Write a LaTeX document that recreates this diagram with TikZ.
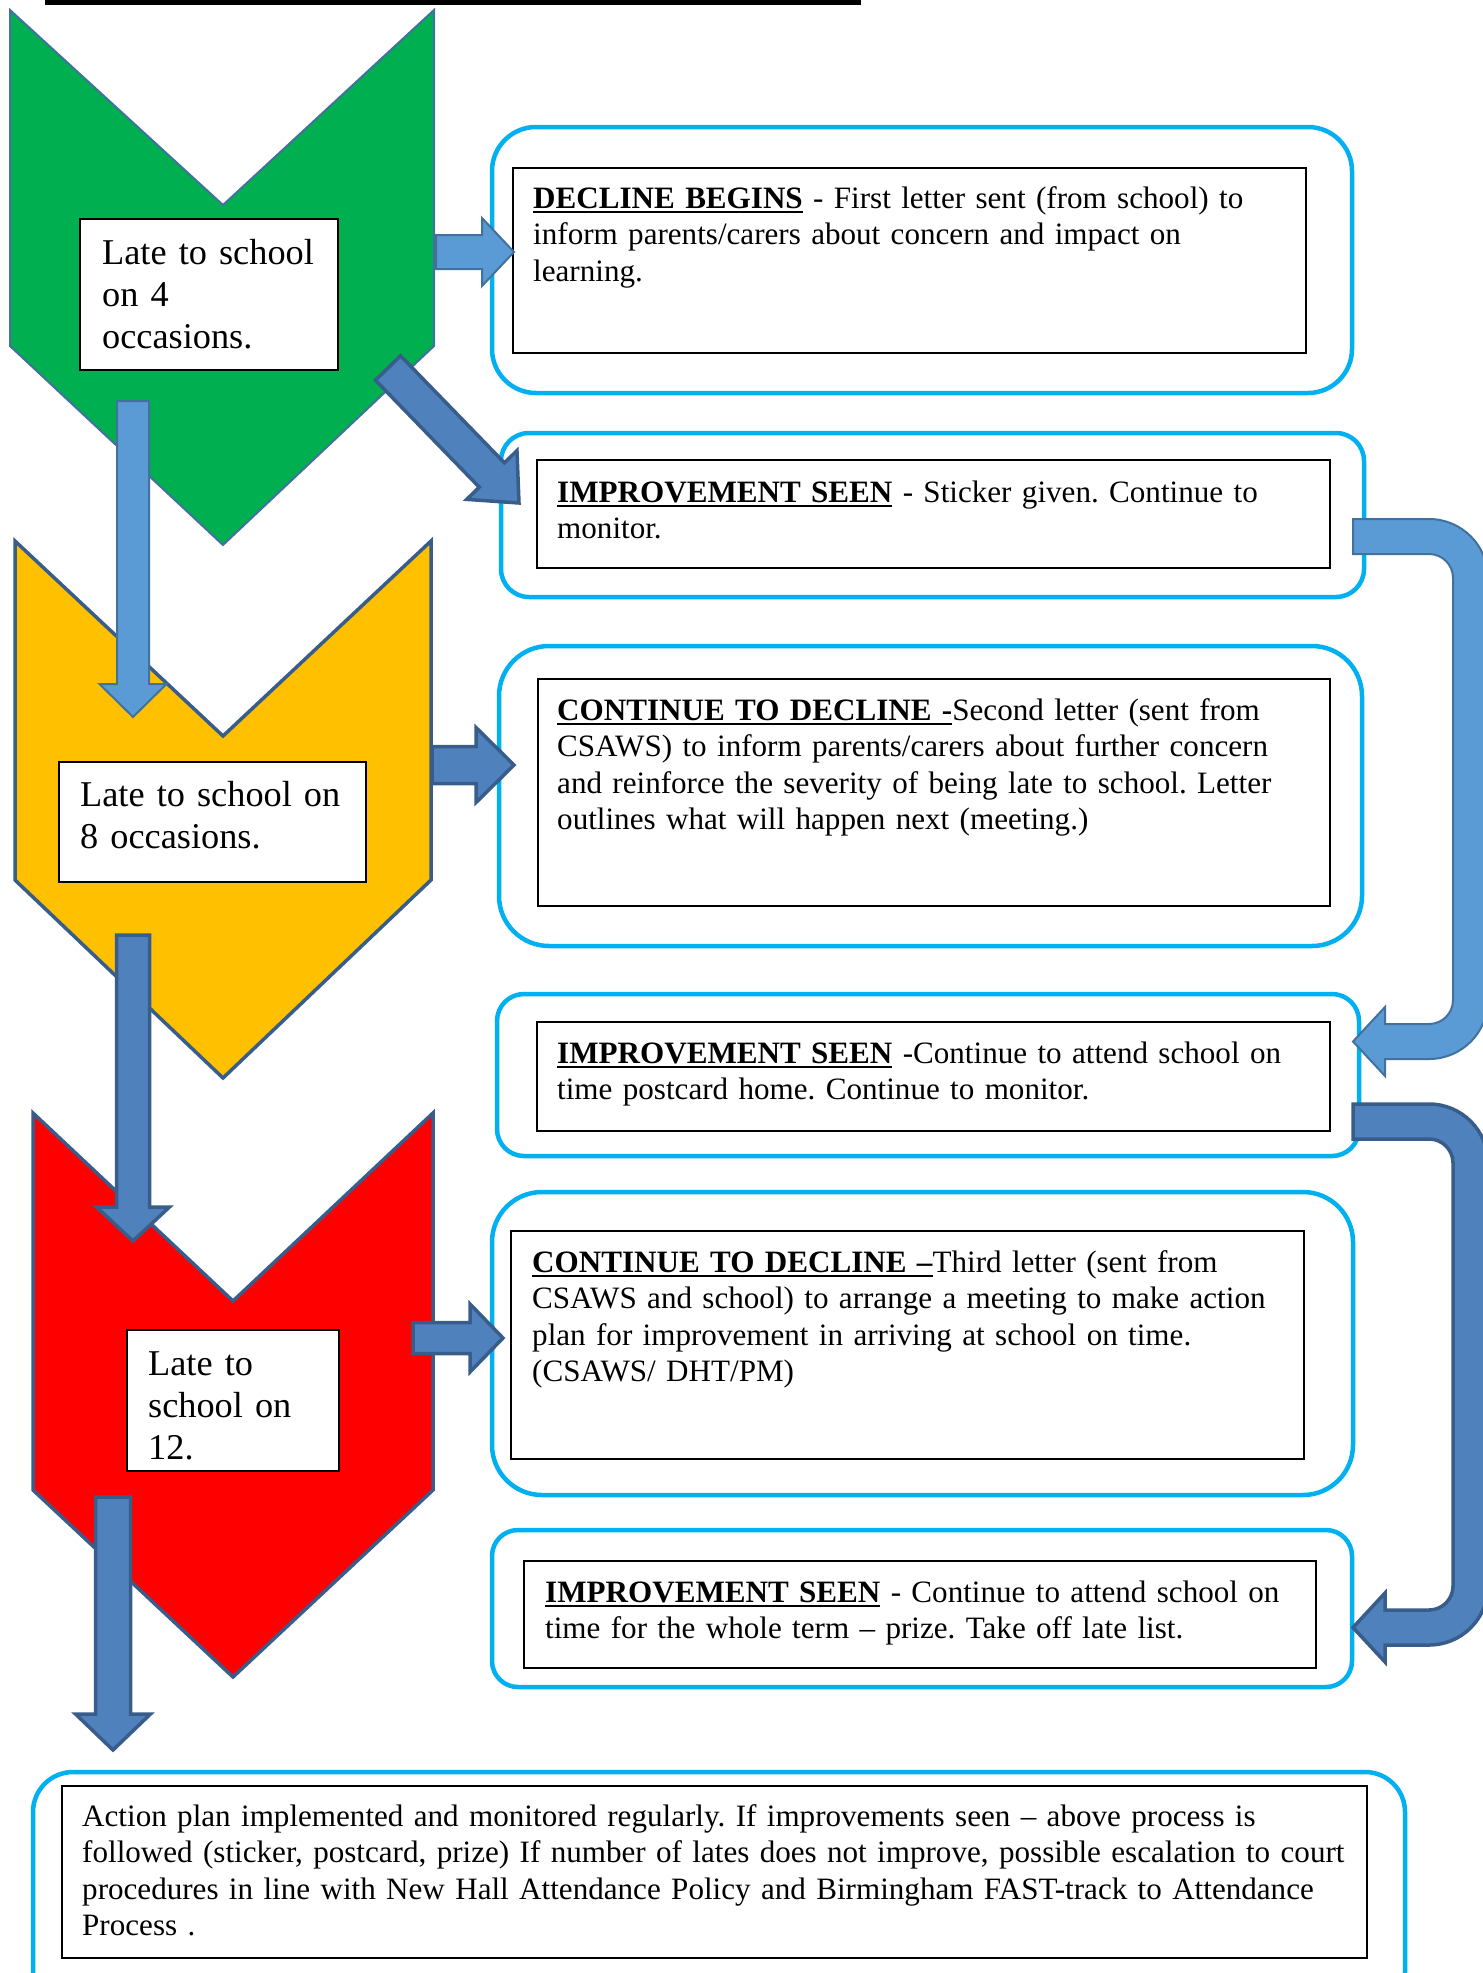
\documentclass[tikz,border=0pt]{standalone}
\usepackage{fontspec}
\setmainfont{Liberation Serif}
\usepackage{tikz}
\usetikzlibrary{calc}

\definecolor{cyanline}{HTML}{00B0F0}
\definecolor{lgreen}{HTML}{00B050}
\definecolor{amber}{HTML}{FFC000}
\definecolor{chevline}{HTML}{385D8A}
\definecolor{lightarrow}{HTML}{5B9BD5}
\definecolor{lightedge}{HTML}{41719C}
\definecolor{darkarrow}{HTML}{4F81BD}

\setlength{\parindent}{0pt}
\frenchspacing
\newcommand{\boxfont}{\fontsize{31.1pt}{36.5pt}\selectfont\frenchspacing}
\newcommand{\latefont}{\fontsize{36.3pt}{42pt}\selectfont\frenchspacing}
\newcommand{\headline}[1]{\setbox0\hbox{\bfseries #1}\rlap{\rule[-5pt]{\wd0}{2.6pt}}\box0\relax}
% block arrow: style, from, to, half shaft, half head, head length
\newcommand{\blockarrow}[6]{%
  \coordinate (ba-h) at ($(#3)!#6pt!(#2)$);
  \draw[#1] ($(#2)!#4pt!90:(#3)$) -- ($(ba-h)!#4pt!90:(#3)$) -- ($(ba-h)!#5pt!90:(#3)$)
    -- (#3) -- ($(ba-h)!#5pt!-90:(#3)$) -- ($(ba-h)!#4pt!-90:(#3)$) -- ($(#2)!#4pt!-90:(#3)$) -- cycle;}
% u-turn arrow on the right: style, top edge, bottom edge
\newcommand{\uturn}[3]{%
  \draw[#1] (1353,#2) -- (1429,#2) .. controls (1461.6,#2) and (1488,{#2+26.4}) .. (1488,{#2+59})
    -- (1488,{#3-59}) .. controls (1488,{#3-26.4}) and (1461.6,#3) .. (1429,#3)
    -- (1385,#3) -- (1385,{#3+17}) -- (1353,{#3-17.5}) -- (1385,{#3-52}) -- (1385,{#3-35})
    -- (1429,{#3-35}) .. controls (1442.3,{#3-35}) and (1453,{#3-45.7}) .. (1453,{#3-59})
    -- (1453,{#2+59}) .. controls (1453,{#2+45.7}) and (1442.3,{#2+35}) .. (1429,{#2+35})
    -- (1353,{#2+35}) -- cycle;}

\begin{document}
\begin{tikzpicture}[x=1pt,y=-1pt]
\tikzset{outer/.style = {shape=rectangle,draw=cyanline,line width=4.5pt,fill=white,inner sep=0pt,outer sep=0pt,anchor=north west}}
\tikzset{inbox/.style = {shape=rectangle,draw=black,line width=2pt,inner sep=0pt,outer sep=0pt,anchor=north west}}
\tikzset{txt/.style = {anchor=north west,inner sep=0pt,align=left,text width=#1,font=\boxfont,execute at begin node=\rule{0pt}{30pt}}}
\tikzset{latetxt/.style = {anchor=north west,inner sep=0pt,align=left,text width=#1,font=\latefont,execute at begin node=\rule{0pt}{34pt}}}
\tikzset{chev/.style = {draw=chevline,line width=3.5pt,line join=miter}}
\tikzset{lightarr/.style = {fill=lightarrow,draw=lightedge,line width=2pt,line join=miter}}
\tikzset{darkarr/.style = {fill=darkarrow,draw=chevline,line width=3.5pt,line join=miter}}
\useasboundingbox (0,0) rectangle (1483,1973);
\fill[black] (45,0) rectangle (861,5);
%\draw (0,0) rectangle (1483,1973);
\node[outer,minimum width=860pt,minimum height=266pt,rounded corners=44pt] (ob1) at (492,127) {};
\node[outer,minimum width=863pt,minimum height=164pt,rounded corners=28pt] (ob2) at (501,433) {};
\node[outer,minimum width=863pt,minimum height=300pt,rounded corners=50pt] (ob3) at (499,646) {};
\node[outer,minimum width=862pt,minimum height=162pt,rounded corners=27pt] (ob4) at (497,994) {};
\node[outer,minimum width=861pt,minimum height=303pt,rounded corners=50pt] (ob5) at (492,1192) {};
\node[outer,minimum width=860pt,minimum height=157pt,rounded corners=26pt] (ob6) at (492,1530) {};
\node[outer,minimum width=1372pt,minimum height=240pt,rounded corners=40pt] (ob7) at (33,1772) {};
\node[inbox,minimum width=793pt,minimum height=185pt] (ib1) at (513,168) {};
\node[inbox,minimum width=793pt,minimum height=108pt] (ib2) at (537,460) {};
\node[inbox,minimum width=792pt,minimum height=227pt] (ib3) at (538,679) {};
\node[inbox,minimum width=793pt,minimum height=109pt] (ib4) at (537,1022) {};
\node[inbox,minimum width=793pt,minimum height=228pt] (ib5) at (511,1231) {};
\node[inbox,minimum width=792pt,minimum height=107pt] (ib6) at (524,1561) {};
\node[inbox,minimum width=1305pt,minimum height=172pt] (ib7) at (62,1786) {};
\node[txt=790pt] (t1) at (533,178) {\headline{DECLINE BEGINS} - First letter sent (from school) to\\ inform parents/carers about concern and impact on\\ learning.};
\node[txt=790pt] (t2) at (557,472) {\headline{IMPROVEMENT SEEN} - Sticker given. Continue to\\ monitor.};
\node[txt=790pt] (t3) at (557,690) {\headline{CONTINUE TO DECLINE -}Second letter (sent from\\ CSAWS) to inform parents/carers about further concern\\ and reinforce the severity of being late to school. Letter\\ outlines what will happen next (meeting.)};
\node[txt=790pt] (t4) at (557,1033) {\headline{IMPROVEMENT SEEN} -Continue to attend school on\\ time postcard home. Continue to monitor.};
\node[txt=790pt] (t5) at (532,1242) {\headline{CONTINUE TO DECLINE –}Third letter (sent from\\ CSAWS and school) to arrange a meeting to make action\\ plan for improvement in arriving at school on time.\\ (CSAWS/ DHT/PM)};
\node[txt=790pt] (t6) at (545,1572) {\headline{IMPROVEMENT SEEN} - Continue to attend school on\\ time for the whole term – prize. Take off late list.};
\node[txt=1340pt] (t7) at (82,1796) {Action plan implemented and monitored regularly. If improvements seen – above process is\\ followed (sticker, postcard, prize) If number of lates does not improve, possible escalation to court\\ procedures in line with New Hall Attendance Policy and Birmingham FAST-track to Attendance\\ Process .};
% chevrons
\draw[chev,draw=lightedge,line width=2pt,fill=lgreen] (10,10) -- (223,205) -- (434,10) -- (434,346) -- (223,545) -- (10,346) -- cycle;
\draw[chev,fill=amber] (15,541) -- (223,736) -- (431,541) -- (431,880) -- (223,1078) -- (15,880) -- cycle;
\draw[chev,fill=red] (33,1113) -- (233,1301) -- (433,1113) -- (433,1490) -- (233,1677) -- (33,1490) -- cycle;
\node[inbox,fill=white,minimum width=258pt,minimum height=151pt] (lb1) at (80,219) {};
\node[inbox,fill=white,minimum width=307pt,minimum height=120pt] (lb2) at (59,762) {};
\node[inbox,fill=white,minimum width=212pt,minimum height=141pt] (lb3) at (127,1330) {};
\node[latetxt=230pt] (lt1) at (102,230) {Late to school\\ on 4\\ occasions.};
\node[latetxt=290pt] (lt2) at (80,772) {Late to school on\\ 8 occasions.};
\node[latetxt=190pt] (lt3) at (148,1341) {Late to\\ school on\\ 12.};
% arrows
\coordinate (g1) at (436,252);  \coordinate (g2) at (514,252);
\coordinate (g3) at (388,368);  \coordinate (g4) at (519,503);
\coordinate (g5) at (133,401);  \coordinate (g6) at (133,717);
\coordinate (y1) at (432,765);  \coordinate (y2) at (514,765);
\coordinate (y3) at (133,935);  \coordinate (y4) at (133,1241);
\coordinate (r1) at (413,1338); \coordinate (r2) at (503,1338);
\coordinate (r3) at (113,1497); \coordinate (r4) at (113,1750);
\blockarrow{lightarr}{g1}{g2}{17}{34}{32}
\blockarrow{darkarr}{g3}{g4}{17.5}{35}{39}
\blockarrow{lightarr}{g5}{g6}{16}{33.5}{33}
\blockarrow{darkarr}{y1}{y2}{18.5}{37.5}{38}
\blockarrow{darkarr}{y3}{y4}{16.5}{36.5}{34}
\blockarrow{darkarr}{r1}{r2}{15.5}{34}{33}
\blockarrow{darkarr}{r3}{r4}{17.5}{37.5}{36}
\uturn{lightarr}{519}{1059}
\uturn{darkarr}{1104}{1645}
\end{tikzpicture}
\end{document}
